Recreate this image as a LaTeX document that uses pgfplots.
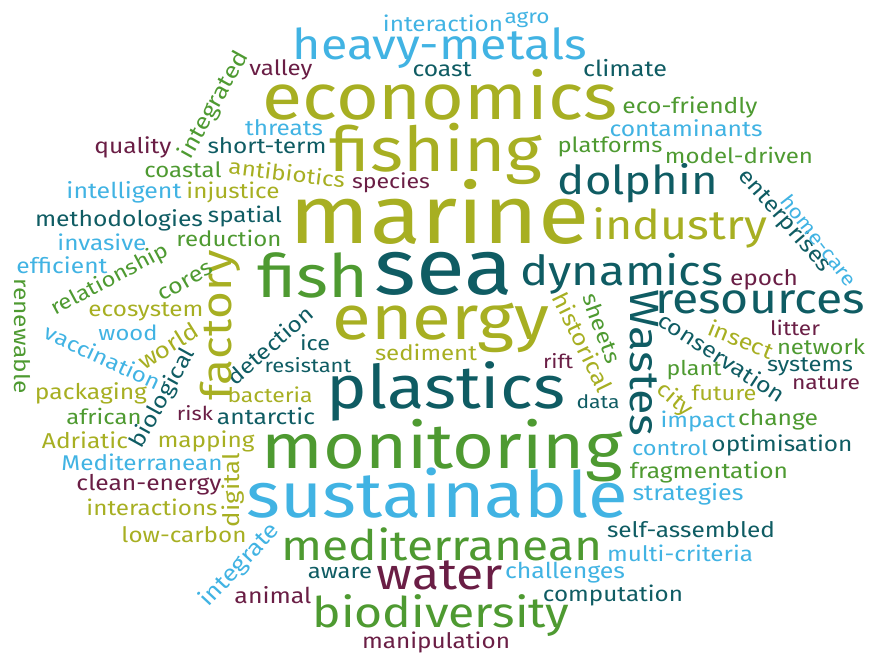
\documentclass[border=0pt]{standalone}
\usepackage{pgfplots}
\usepackage{pgfplotstable}
\usepackage{fontspec}
\pgfplotsset{compat=1.18}
\newfontfamily\cloudfont[FakeStretch=1.14]{Fira Sans}
\definecolor{cteal}{HTML}{0F5C63}
\definecolor{colive}{HTML}{A7AF22}
\definecolor{cgreen}{HTML}{4E9A31}
\definecolor{cblue}{HTML}{41B3E3}
\definecolor{cmaroon}{HTML}{6A1E45}

\pgfplotstableread{
x y w rot word
444 274 138 0 sea
446 391 238 0 plastics
638 183 160 0 dolphin
622 274 203 0 dynamics
760 302 210 0 resources
644 363 147 -90 Wastes
267 146 119 0 short-term
119 220 168 0 methodologies
442 70 59 0 coast
625 68 84 0 climate
245 216 74 0 spatial
270 345 106 41 detection
315 343 30 0 ice
308 365 87 0 resistant
266 416 98 0 antarctic
163 398 110 61 biological
785 221 129 -49 enterprises
722 357 146 -33 conservation
810 367 86 0 systems
598 402 43 0 data
782 445 141 0 optimisation
691 530 168 0 self-assembled
613 595 140 0 computation
340 573 64 0 aware
}\tblteal

\pgfplotstableread{
x y w rot word
440 212 300 0 marine
440 95 355 0 economics
436 154 213 0 fishing
441 328 217 0 energy
680 228 175 0 industry
220 325 150 90 factory
287 173 117 -7 antibiotics
233 192 93 0 injustice
146 312 115 0 ecosystem
168 346 67 32 world
91 393 112 0 packaging
270 395 85 0 bacteria
85 440 86 0 Adriatic
206 441 97 0 mapping
426 352 102 0 sediment
583 342 108 -64 historical
741 339 68 -22 insect
724 393 65 0 future
675 400 40 -40 city
233 490 74 90 digital
152 507 131 0 interactions
184 535 125 0 low-carbon
}\tblolive

\pgfplotstableread{
x y w rot word
313 275 111 0 fish
442 451 361 0 monitoring
442 544 321 0 mediterranean
441 616 257 0 biodiversity
214 105 119 61 integrated
183 170 77 0 coastal
229 238 105 0 reduction
110 280 130 28 relationship
186 282 60 30 cores
22 336 115 -90 renewable
690 107 135 0 eco-friendly
610 147 105 0 platforms
739 155 148 0 model-driven
821 347 88 0 network
694 370 55 0 plant
602 328 73 -70 sheets
778 420 80 0 change
709 472 158 0 fragmentation
104 416 75 0 african
}\tblgreen

\pgfplotstableread{
x y w rot word
440 48 294 0 heavy-metals
437 493 381 0 sustainable
443 23 120 0 interaction
527 20 45 0 agro
284 128 78 0 threats
686 128 153 0 contaminants
124 192 115 0 intelligent
102 242 89 0 invasive
62 265 91 0 efficient
103 357 125 -25 vaccination
128 333 59 0 wood
819 240 110 -52 home-care
142 462 161 0 Mediterranean
670 448 76 0 control
698 421 75 0 impact
688 494 111 0 strategies
680 553 146 0 multi-criteria
565 573 120 0 challenges
240 565 105 47 integrate
}\tblblue

\pgfplotstableread{
x y w rot word
440 575 126 0 water
281 70 63 0 valley
133 147 77 0 quality
391 183 78 0 species
764 280 68 0 epoch
795 328 50 0 litter
826 383 68 0 nature
558 361 30 0 rift
195 413 36 0 risk
149 485 145 0 clean-energy
273 595 77 0 animal
436 642 148 0 manipulation
}\tblmaroon

\begin{document}
\begin{tikzpicture}
\begin{axis}[
  width=870pt, height=655pt, scale only axis,
  xmin=0, xmax=870, ymin=0, ymax=655, y dir=reverse,
  hide axis, clip=false,
  point meta=explicit symbolic,
  visualization depends on={\thisrow{w}\as\wdt},
  visualization depends on={\thisrow{rot}\as\myrot},
  nodes near coords={\resizebox{\wdt pt}{!}{\cloudfont\pgfplotspointmeta}},
  every node near coord/.append style={anchor=center, inner sep=0pt, rotate=\myrot},
]
\addplot[draw=none, mark=none, every node near coord/.append style={text=cteal}] table[x=x, y=y, meta=word] {\tblteal};
\addplot[draw=none, mark=none, every node near coord/.append style={text=colive}] table[x=x, y=y, meta=word] {\tblolive};
\addplot[draw=none, mark=none, every node near coord/.append style={text=cgreen}] table[x=x, y=y, meta=word] {\tblgreen};
\addplot[draw=none, mark=none, every node near coord/.append style={text=cblue}] table[x=x, y=y, meta=word] {\tblblue};
\addplot[draw=none, mark=none, every node near coord/.append style={text=cmaroon}] table[x=x, y=y, meta=word] {\tblmaroon};
\end{axis}
\pgfresetboundingbox
\path (current axis.south west) rectangle (current axis.north east);
\end{tikzpicture}
\end{document}
